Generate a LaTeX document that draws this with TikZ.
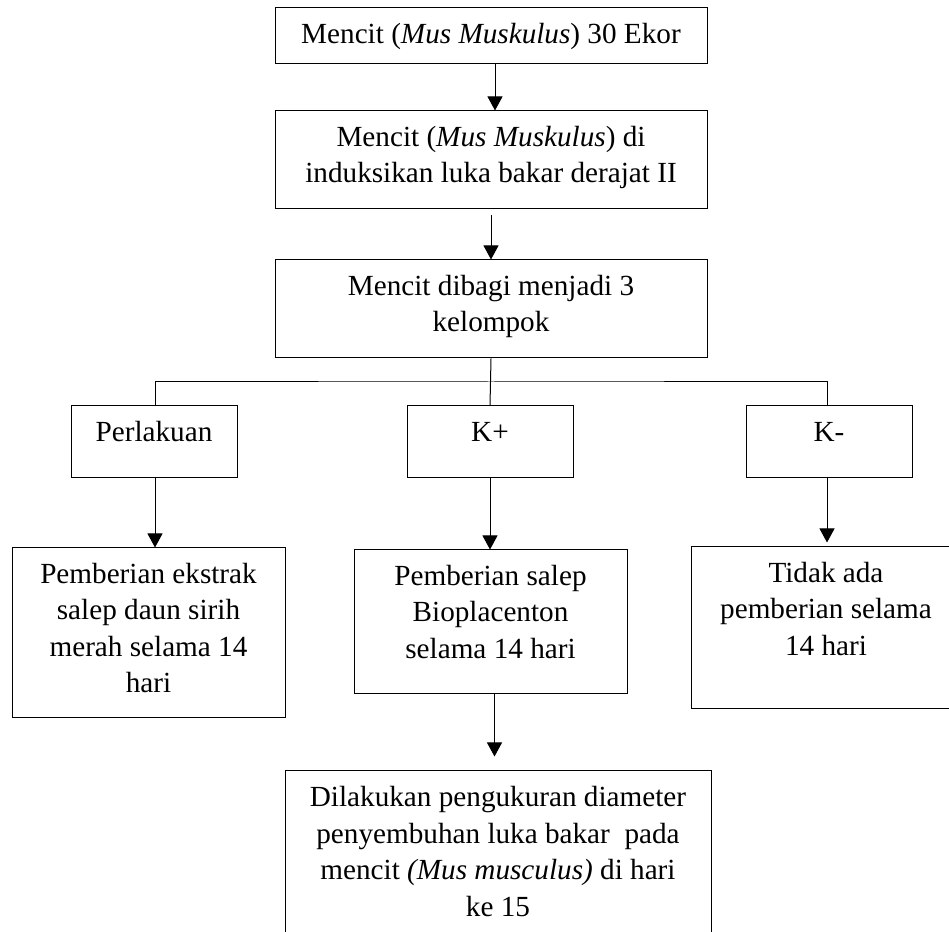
\documentclass[tikz,border=0pt]{standalone}
\usepackage{fontspec}
\setmainfont{Liberation Serif}
\usetikzlibrary{arrows.meta}

\tikzset{
    box/.style={draw, line width=1pt, inner sep=0pt},
    txt/.style={anchor=base, align=center, inner sep=0pt,
        font=\fontsize{29.2}{36.5}\selectfont},
    arr/.style={line width=1pt, -{Triangle[width=15pt, length=14pt]}},
    link/.style={line width=1pt}
}

\begin{document}
\begin{tikzpicture}[x=1pt, y=1pt]
        \pgfmathsetmacro\drop{36};
        \pgfmathsetmacro\gap{36.5};
        \clip (0, 0) rectangle (949, 931);

        % top column
        \node[box, minimum width=432, minimum height=56] (mice) at (491, 895) {};
        \node[txt] (micetext) at ([yshift=-\drop]mice.north)
            {Mencit (\textit{Mus Muskulus}) 30 Ekor};
        \node[box, minimum width=432, minimum height=98] (burn) at (491, 771) {};
        \node[txt] (burntext) at ([yshift=-\drop - \gap]burn.north)
            {Mencit (\textit{Mus Muskulus}) di\\induksikan luka bakar derajat II};
        \node[box, minimum width=432, minimum height=98] (split) at (491, 622) {};
        \node[txt] (splittext) at ([yshift=-\drop - \gap]split.north)
            {Mencit dibagi menjadi 3\\kelompok};
        \draw[arr] ([xshift=4]mice.south) -- ([xshift=4]burn.north);
        \draw[arr] ([yshift=-6]burn.south) -- (split.north);

        % the three groups
        \node[box, minimum width=166, minimum height=72] (treat) at (154, 489) {};
        \node[txt] (treattext) at ([yshift=-\drop]treat.north) {Perlakuan};
        \node[box, minimum width=166, minimum height=72] (kplus) at (490, 489) {};
        \node[txt] (kplustext) at ([yshift=-\drop]kplus.north) {K+};
        \node[box, minimum width=166, minimum height=72] (kminus) at (829, 489) {};
        \node[txt] (kminustext) at ([yshift=-\drop]kminus.north) {K-};
        \coordinate (fork) at (491, 549);
        \draw[link] (split.south) -- (kplus.north);
        \draw[link] ([xshift=1]treat.north) |- (fork) -| ([xshift=-2]kminus.north);

        % what each group gets
        \node[box, minimum width=273, minimum height=170] (ext) at (148.5, 298) {};
        \node[txt] (exttext) at ([yshift=-\drop - 3 * \gap]ext.north)
            {Pemberian ekstrak\\salep daun sirih\\merah selama 14\\hari};
        \node[box, minimum width=273, minimum height=144] (bio) at (490.5, 309) {};
        \node[txt] (biotext) at ([yshift=-\drop - 2 * \gap]bio.north)
            {Pemberian salep\\Bioplacenton\\selama 14 hari};
        \node[box, minimum width=270, minimum height=162] (none) at (826, 303) {};
        \node[txt] (nonetext) at ([yshift=-\drop - 2 * \gap]none.north)
            {Tidak ada\\pemberian selama\\14 hari};
        \draw[arr] ([xshift=1]treat.south) -- ([xshift=1]treat.south |- ext.north);
        \draw[arr] (kplus.south) -- (kplus.south |- bio.north);
        \draw[arr] ([xshift=-2]kminus.south) -- ([xshift=-2, yshift=4]kminus.south |- none.north);

        % measurement
        \node[box, minimum width=426, minimum height=200] (measure) at (498, 60) {};
        \node[txt] (measuretext) at ([yshift=-\drop - 3 * \gap]measure.north)
            {Dilakukan pengukuran diameter\\penyembuhan luka bakar\ \ pada\\
            mencit \textit{(Mus musculus)} di hari\\ke 15};
        \draw[arr] ([xshift=4]bio.south) -- ([xshift=4, yshift=14]bio.south |- measure.north);
    \end{tikzpicture}
\end{document}
